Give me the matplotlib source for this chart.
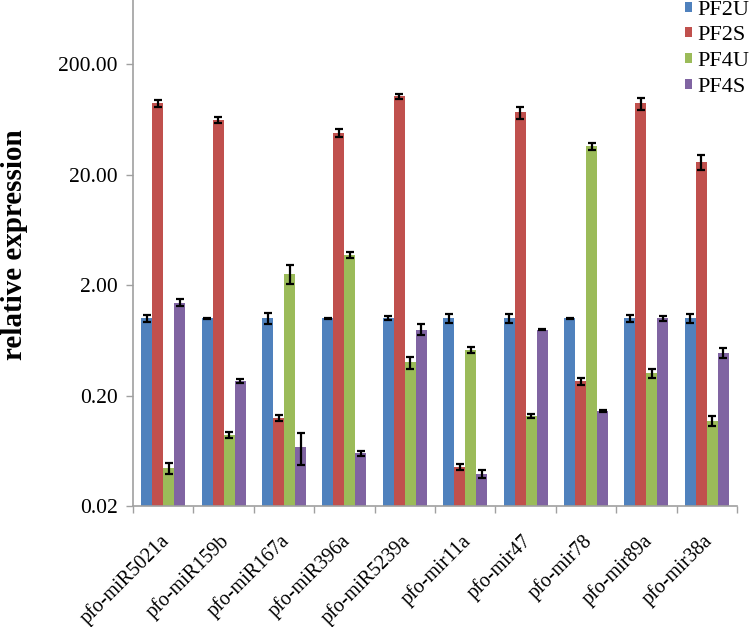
import matplotlib
matplotlib.use("Agg")
import matplotlib.pyplot as plt
import matplotlib.transforms as mtransforms
import numpy as np
from matplotlib.ticker import FixedLocator, NullLocator, FixedFormatter

categories = ["pfo-miR5021a", "pfo-miR159b", "pfo-miR167a", "pfo-miR396a", "pfo-miR5239a",
              "pfo-mir11a", "pfo-mir47", "pfo-mir78", "pfo-mir89a", "pfo-mir38a"]
series = ["PF2U", "PF2S", "PF4U", "PF4S"]
colors = ["#4F81BD", "#C0504D", "#9BBB59", "#8064A2"]

pf2u = [1.0, 1.0, 1.0, 1.0, 1.0, 1.0, 1.0, 1.0, 1.0, 1.0]
pf2s = [88.0, 62.0, 0.126, 48.0, 102.0, 0.045, 73.0, 0.27, 88.0, 25.8]
pf4u = [0.044, 0.088, 2.54, 3.77, 0.40, 0.52, 0.131, 36.0, 0.32, 0.118]
pf4s = [1.38, 0.27, 0.069, 0.060, 0.79, 0.039, 0.79, 0.145, 1.0, 0.49]

pf2u_err = [0.08, 0.01, 0.12, 0.01, 0.04, 0.1, 0.1, 0.015, 0.08, 0.1]
pf2s_err = [7.0, 4.0, 0.008, 4.0, 6.0, 0.003, 9.0, 0.02, 11.0, 4.0]
pf4u_err = [0.005, 0.005, 0.5, 0.25, 0.05, 0.03, 0.005, 2.5, 0.03, 0.012]
pf4s_err = [0.1, 0.01, 0.022, 0.003, 0.09, 0.003, 0.01, 0.002, 0.05, 0.05]

ytick_vals = [0.02, 0.2, 2, 20, 200]
ytick_labels = ["0.02", "0.20", "2.00", "20.00", "200.00"]

values = [pf2u, pf2s, pf4u, pf4s]
errors = [pf2u_err, pf2s_err, pf4u_err, pf4s_err]

serif = ["Liberation Serif", "DejaVu Serif"]
plt.rcParams['font.family'] = serif

fig = plt.figure(figsize=(7.49, 6.27), dpi=100)
ax = fig.add_axes([0.1776, 0.193, 0.8064, 0.807])

x = np.arange(len(categories))
w = 0.182
for i, (vals, errs) in enumerate(zip(values, errors)):
    ax.bar(x + (i - 1.5) * w, vals, width=w, color=colors[i], label=series[i],
           yerr=errs, error_kw=dict(ecolor="black", elinewidth=1.6, capsize=3, capthick=1.6),
           zorder=2)

ax.set_yscale("log")
ax.set_ylim(0.02, 760)
ax.set_xlim(-0.5, len(categories) - 0.5)
ax.yaxis.set_major_locator(FixedLocator(ytick_vals))
ax.yaxis.set_major_formatter(FixedFormatter(ytick_labels))
ax.yaxis.set_minor_locator(NullLocator())
ax.tick_params(axis="y", labelsize=15.5, color="#A0A0A0", length=5, width=1, direction="out", pad=6)

ax.set_xticks(x)
ax.set_xticklabels(categories, rotation=45, ha="right", rotation_mode="anchor", fontsize=14.5)
ax.tick_params(axis="x", length=0, pad=18)
offset = mtransforms.ScaledTranslation(-4 / 100, 0, fig.dpi_scale_trans)
for lbl in ax.get_xticklabels():
    lbl.set_transform(lbl.get_transform() + offset)
ax.set_xticks(np.arange(len(categories) + 1) - 0.5, minor=True)
ax.tick_params(axis="x", which="minor", length=5, color="#A0A0A0", width=1)

for s in ["top", "right"]:
    ax.spines[s].set_visible(False)
for s in ["left", "bottom"]:
    ax.spines[s].set_color("#A0A0A0")
    ax.spines[s].set_linewidth(1.2)

ax.set_ylabel("relative expression", fontsize=21, fontweight="bold")
ax.yaxis.set_label_coords(-0.174, 0.516)

leg = fig.legend(loc="upper left", bbox_to_anchor=(0.9146, 0.999), frameon=False, fontsize=16,
                 handlelength=0.32, handleheight=0.32, handletextpad=0.25, labelspacing=0.3,
                 borderaxespad=0, borderpad=0)

fig.savefig("out.png", dpi=100)
